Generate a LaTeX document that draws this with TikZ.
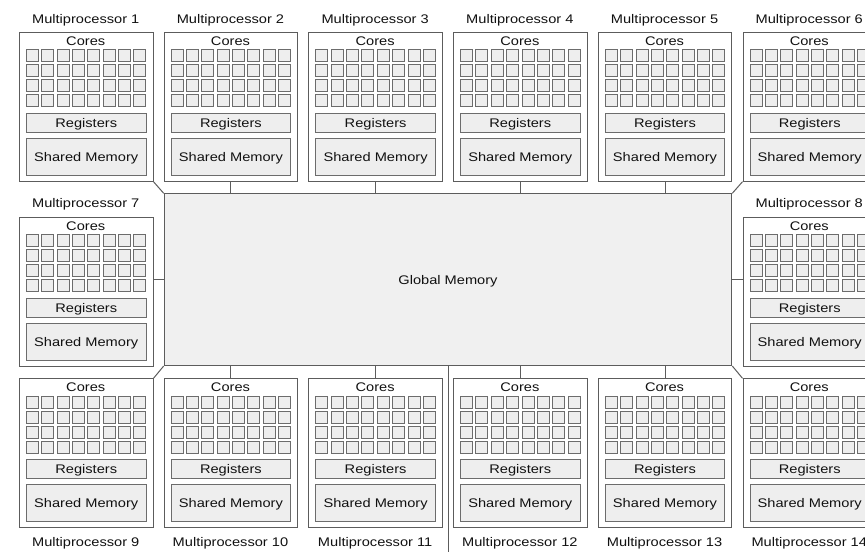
\documentclass[tikz,border=0pt]{standalone}
\usepackage{fontspec}
\setmainfont{Liberation Sans}[FakeStretch=1.17]
\definecolor{edgec}{HTML}{5C5C5C}
\definecolor{cellc}{HTML}{6C6C6C}
\definecolor{cellf}{HTML}{EEEEEE}
\definecolor{gmf}{HTML}{F0F0F0}
\definecolor{txt}{HTML}{111111}
\newcommand\mpfont{\fontsize{12.5pt}{15pt}\selectfont}
\tikzset{
  outer/.style={draw=edgec, fill=white, line width=1pt, minimum width=133.5pt, minimum height=149pt, inner sep=0pt, anchor=north west},
  cell/.style={draw=cellc, fill=cellf, line width=0.9pt, minimum width=12pt, minimum height=12pt, inner sep=0pt, anchor=north west},
  regbox/.style={draw=cellc, fill=cellf, line width=0.9pt, minimum width=119.5pt, minimum height=19pt, inner sep=0pt, anchor=north west, font=\mpfont, text=txt, text height=9pt, text depth=0pt},
  shbox/.style={regbox, minimum height=37pt},
  lbl/.style={font=\mpfont, text=txt, inner sep=0pt, anchor=base},
  gmbox/.style={draw=edgec, fill=gmf, line width=1pt, minimum width=567.6pt, minimum height=171.7pt, inner sep=0pt, anchor=north west, font=\mpfont, text=txt, text height=9pt, text depth=0pt},
  link/.style={draw=edgec, line width=1pt}
}
% #1 name, #2 x, #3 y (top), #4 label, #5 label baseline offset from top
\newcommand\mpunit[5]{%
  \node[outer] (#1) at (#2,#3) {};
  \node[lbl] (#1c) at (#2+66.75,#3+13.3) {Cores};
  \foreach \r in {0,...,3} {
    \foreach \c in {0,...,7} {
      \node[cell] (#1-\r-\c) at (#2+7+\c*15.35,#3+17.5+\r*15.05) {};
    }
  }
  \node[regbox] (#1r) at (#2+7,#3+81) {Registers};
  \node[shbox] (#1s) at (#2+7,#3+106) {Shared Memory};
  \node[lbl] (#1l) at (#2+66.75,#3+#5) {#4};
}
\begin{document}
\begin{tikzpicture}[x=1pt,y=-1pt]
\useasboundingbox (0,0) rectangle (865,552);
\clip (0,0) rectangle (865,552);
\fill[white] (0,0) rectangle (865,552);
% global memory
\node[gmbox] (gm) at (163.7,193.3) {Global Memory};
% top row
\mpunit{mp1}{19}{31.7}{Multiprocessor 1}{-8.5}
\mpunit{mp2}{163.7}{31.7}{Multiprocessor 2}{-8.5}
\mpunit{mp3}{308.4}{31.7}{Multiprocessor 3}{-8.5}
\mpunit{mp4}{453.1}{31.7}{Multiprocessor 4}{-8.5}
\mpunit{mp5}{597.8}{31.7}{Multiprocessor 5}{-8.5}
\mpunit{mp6}{742.5}{31.7}{Multiprocessor 6}{-8.5}
% middle row
\mpunit{mp7}{19}{216.7}{Multiprocessor 7}{-9.7}
\mpunit{mp8}{742.5}{216.7}{Multiprocessor 8}{-9.7}
% bottom row
\mpunit{mp9}{19}{378.3}{Multiprocessor 9}{168.4}
\mpunit{mp10}{163.7}{378.3}{Multiprocessor 10}{168.4}
\mpunit{mp11}{308.4}{378.3}{Multiprocessor 11}{168.4}
\mpunit{mp12}{453.1}{378.3}{Multiprocessor 12}{168.4}
\mpunit{mp13}{597.8}{378.3}{Multiprocessor 13}{168.4}
\mpunit{mp14}{742.5}{378.3}{Multiprocessor 14}{168.4}
% connectors
\draw[link] (mp1.south east) -- (gm.north west);
\foreach \i in {2,3,4,5} {\draw[link] (mp\i.south) -- (mp\i.south |- gm.north);}
\draw[link] (mp6.south west) -- (gm.north east);
\draw[link] (gm.west) -- (gm.west -| mp7.east);
\draw[link] (gm.east) -- (gm.east -| mp8.west);
\draw[link] (mp9.north east) -- (gm.south west);
\foreach \i in {10,11,12,13} {\draw[link] (mp\i.north) -- (mp\i.north |- gm.south);}
\draw[link] (mp14.north west) -- (gm.south east);
\coordinate (bottomend) at (gm.south |- 0,552);
\draw[link] (gm.south) -- (bottomend);
\end{tikzpicture}
\end{document}
